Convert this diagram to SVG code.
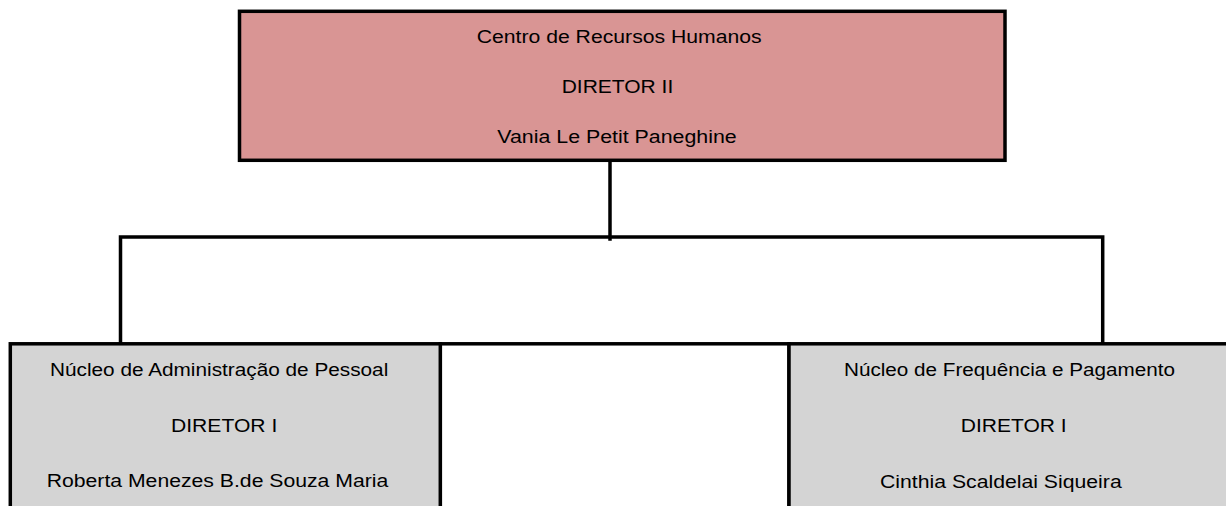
<svg xmlns="http://www.w3.org/2000/svg" width="1226" height="506" viewBox="0 0 1226 506">
  <style>
    .box { stroke: #000; stroke-width: 3.5; }
    .top { fill: #d99594; }
    .sub { fill: #d4d4d4; }
    .blank { fill: #ffffff; }
    .conn { fill: none; stroke: #000; stroke-width: 3.5; stroke-linecap: square; }
    text { font-family: "Liberation Sans", Arial, sans-serif; font-size: 18.7px; fill: #000; }
  </style>
  <rect width="1226" height="506" fill="#ffffff"/>
  <g id="connectors">
    <line class="conn" x1="610" y1="162" x2="610" y2="239"/>
    <polyline class="conn" points="120.5,343 120.5,237 1102.7,237 1102.7,343"/>
  </g>
  <g id="centro-rh">
    <rect class="box top" x="239.5" y="11.3" width="765.5" height="149"/>
    <text x="476.7" y="42.7" textLength="285" lengthAdjust="spacingAndGlyphs">Centro de Recursos Humanos</text>
    <text x="561.7" y="93.3" textLength="111.6" lengthAdjust="spacingAndGlyphs">DIRETOR II</text>
    <text x="497.3" y="143.3" textLength="239.4" lengthAdjust="spacingAndGlyphs">Vania Le Petit Paneghine</text>
  </g>
  <g id="empty-cell">
    <rect class="box blank" x="440.3" y="343.8" width="348.7" height="200"/>
  </g>
  <g id="nucleo-admin">
    <rect class="box sub" x="10.3" y="343.8" width="430" height="200"/>
    <text x="50" y="376.3" textLength="338.3" lengthAdjust="spacingAndGlyphs">Núcleo de Administração de Pessoal</text>
    <text x="171" y="431.7" textLength="106.3" lengthAdjust="spacingAndGlyphs">DIRETOR I</text>
    <text x="46.7" y="486.8" textLength="341.6" lengthAdjust="spacingAndGlyphs">Roberta Menezes B.de Souza Maria</text>
  </g>
  <g id="nucleo-frequencia">
    <rect class="box sub" x="789" y="343.8" width="500" height="200"/>
    <text x="844" y="376.3" textLength="331" lengthAdjust="spacingAndGlyphs">Núcleo de Frequência e Pagamento</text>
    <text x="960.7" y="431.7" textLength="106" lengthAdjust="spacingAndGlyphs">DIRETOR I</text>
    <text x="880" y="487.5" textLength="241.7" lengthAdjust="spacingAndGlyphs">Cinthia Scaldelai Siqueira</text>
  </g>
</svg>
